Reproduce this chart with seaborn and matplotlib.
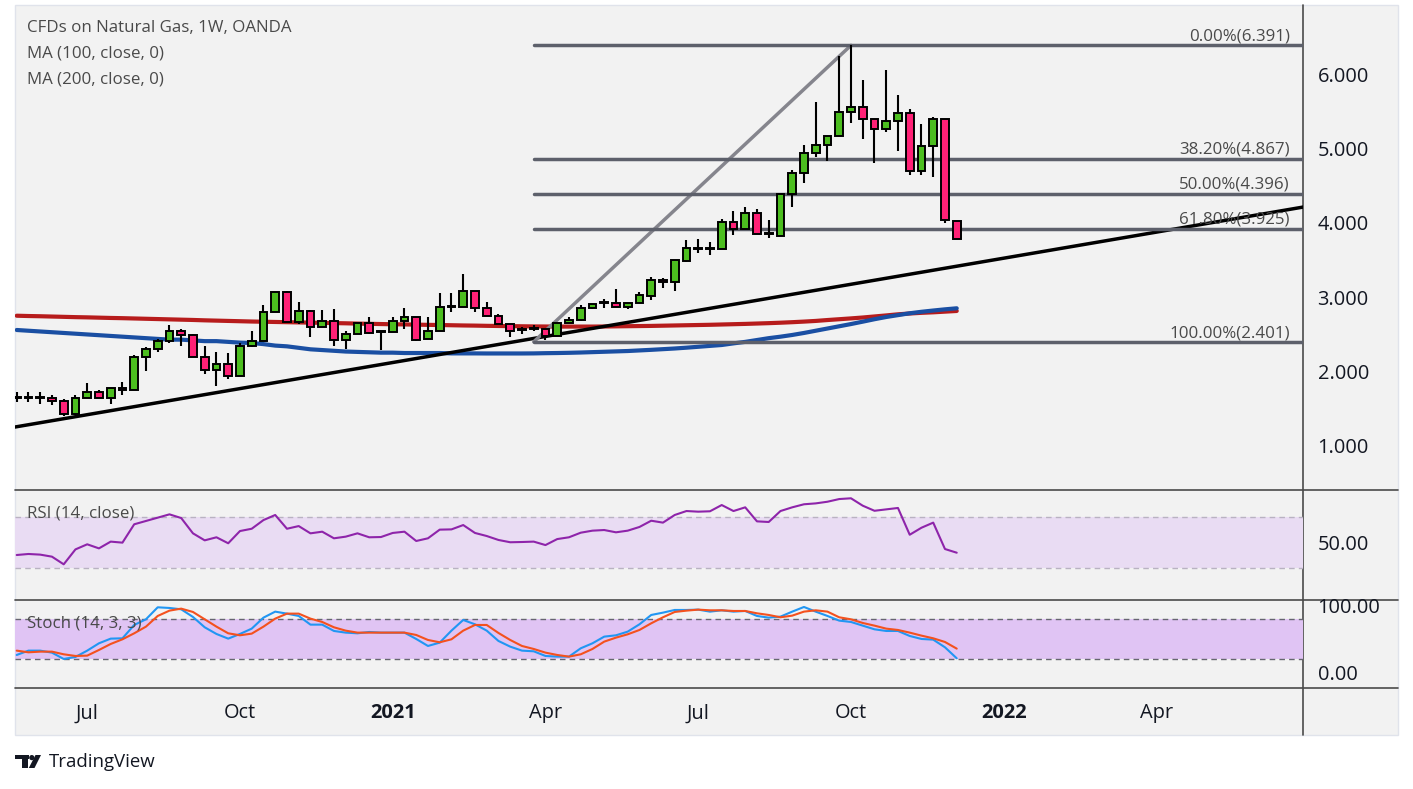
import numpy as np
import pandas as pd
import matplotlib
matplotlib.use("Agg")
import matplotlib.pyplot as plt
import seaborn as sns
from matplotlib.patches import Rectangle, Polygon, Circle

# weekly candles, CFDs on Natural Gas (OANDA)
start_date = "2020-05-18"

opens = [1.65, 1.65, 1.65, 1.645, 1.60, 1.43, 1.64, 1.73, 1.65, 1.78,
         1.75, 2.19, 2.30, 2.41, 2.54, 2.49, 2.19, 2.02, 2.10, 1.94,
         2.34, 2.41, 2.80, 3.07, 2.67, 2.82, 2.60, 2.68, 2.43, 2.50,
         2.65, 2.53, 2.53, 2.68, 2.73, 2.44, 2.55, 2.87, 2.87, 3.09,
         2.85, 2.75, 2.64, 2.56, 2.58, 2.58, 2.48, 2.66, 2.70, 2.85,
         2.92, 2.92, 2.87, 2.93, 3.02, 3.23, 3.20, 3.49, 3.65, 3.65,
         3.65, 4.02, 3.92, 4.13, 3.85, 3.83, 4.39, 4.67, 4.94, 5.05,
         5.17, 5.49, 5.56, 5.40, 5.26, 5.37, 5.48, 4.70, 5.03, 5.40,
         4.03]
highs = [1.72, 1.72, 1.72, 1.69, 1.63, 1.69, 1.85, 1.75, 1.775, 1.86,
         2.22, 2.33, 2.44, 2.63, 2.58, 2.50, 2.34, 2.26, 2.25, 2.38,
         2.55, 2.90, 3.07, 3.09, 2.94, 2.83, 2.83, 2.84, 2.55, 2.66,
         2.74, 2.54, 2.74, 2.85, 2.73, 2.73, 3.06, 3.06, 3.31, 3.09,
         2.94, 2.78, 2.64, 2.60, 2.63, 2.58, 2.66, 2.73, 2.89, 2.91,
         2.98, 3.11, 2.93, 3.07, 3.27, 3.26, 3.50, 3.77, 3.79, 3.74,
         4.05, 4.16, 4.22, 4.19, 4.04, 4.39, 4.71, 5.05, 5.63, 5.17,
         6.25, 6.391, 5.92, 5.40, 6.06, 5.72, 5.53, 5.33, 5.43, 5.40,
         4.03]
lows = [1.59, 1.59, 1.57, 1.55, 1.40, 1.41, 1.64, 1.65, 1.56, 1.69,
        1.75, 2.01, 2.27, 2.38, 2.34, 2.19, 1.97, 1.81, 1.90, 1.94,
        2.33, 2.41, 2.80, 2.67, 2.64, 2.47, 2.60, 2.35, 2.30, 2.50,
        2.51, 2.29, 2.53, 2.57, 2.41, 2.44, 2.55, 2.80, 2.87, 2.80,
        2.75, 2.64, 2.47, 2.51, 2.55, 2.43, 2.48, 2.65, 2.68, 2.84,
        2.85, 2.87, 2.84, 2.93, 2.97, 3.12, 3.09, 3.47, 3.60, 3.57,
        3.65, 3.84, 3.92, 3.85, 3.80, 3.83, 4.22, 4.54, 4.89, 4.83,
        5.17, 5.35, 5.13, 4.81, 5.23, 4.97, 4.64, 4.65, 4.62, 4.00,
        3.78]
closes = [1.65, 1.65, 1.65, 1.60, 1.43, 1.64, 1.73, 1.65, 1.775, 1.75,
          2.19, 2.30, 2.41, 2.54, 2.49, 2.19, 2.02, 2.10, 1.94, 2.34,
          2.41, 2.80, 3.07, 2.67, 2.82, 2.60, 2.68, 2.43, 2.50, 2.65,
          2.52, 2.53, 2.68, 2.73, 2.43, 2.55, 2.87, 2.87, 3.09, 2.86,
          2.75, 2.64, 2.55, 2.56, 2.58, 2.48, 2.66, 2.70, 2.85, 2.91,
          2.92, 2.87, 2.93, 3.03, 3.23, 3.20, 3.50, 3.66, 3.65, 3.65,
          4.02, 3.92, 4.13, 3.85, 3.85, 4.39, 4.67, 4.94, 5.05, 5.17,
          5.49, 5.56, 5.40, 5.26, 5.37, 5.48, 4.70, 5.03, 5.40, 4.04,
          3.78]

ma100 = [2.56, 2.55, 2.54, 2.53, 2.52, 2.51, 2.50, 2.49, 2.48, 2.47,
         2.46, 2.45, 2.44, 2.43, 2.43, 2.42, 2.41, 2.41, 2.40, 2.39,
         2.385, 2.37, 2.35, 2.34, 2.32, 2.30, 2.29, 2.28, 2.27, 2.265,
         2.26, 2.255, 2.255, 2.25, 2.25, 2.25, 2.25, 2.245, 2.245, 2.245,
         2.244, 2.244, 2.244, 2.244, 2.245, 2.248, 2.25, 2.253, 2.257, 2.262,
         2.267, 2.272, 2.277, 2.285, 2.293, 2.302, 2.311, 2.322, 2.334, 2.346,
         2.358, 2.38, 2.40, 2.425, 2.45, 2.47, 2.493, 2.52, 2.55, 2.58,
         2.61, 2.64, 2.672, 2.705, 2.735, 2.76, 2.785, 2.805, 2.822, 2.838,
         2.852]
ma200 = [2.752, 2.748, 2.745, 2.741, 2.737, 2.733, 2.730, 2.726, 2.722, 2.719,
         2.715, 2.711, 2.707, 2.703, 2.699, 2.695, 2.690, 2.686, 2.682, 2.678,
         2.674, 2.671, 2.668, 2.665, 2.662, 2.659, 2.656, 2.653, 2.650, 2.646,
         2.643, 2.640, 2.637, 2.635, 2.632, 2.629, 2.627, 2.624, 2.621, 2.619,
         2.616, 2.614, 2.612, 2.610, 2.608, 2.607, 2.606, 2.606, 2.606, 2.606,
         2.607, 2.609, 2.611, 2.613, 2.615, 2.618, 2.621, 2.624, 2.627, 2.630,
         2.634, 2.638, 2.642, 2.647, 2.652, 2.658, 2.665, 2.673, 2.682, 2.694,
         2.705, 2.716, 2.728, 2.742, 2.756, 2.771, 2.782, 2.791, 2.798, 2.807,
         2.816]

rsi = [40.2, 41.0, 40.5, 38.9, 32.9, 44.6, 48.6, 45.4, 50.7, 49.9,
       64.3, 66.9, 69.5, 72.1, 69.2, 57.2, 51.7, 54.1, 49.4, 59.0,
       60.8, 67.6, 71.6, 60.8, 62.9, 57.2, 58.5, 53.3, 54.6, 57.2,
       54.1, 54.3, 57.5, 58.5, 51.2, 53.3, 60.1, 60.3, 63.7, 57.5,
       55.1, 52.0, 50.2, 50.4, 50.7, 48.0, 52.7, 54.1, 57.7, 59.3,
       59.8, 58.0, 59.3, 62.2, 67.1, 65.6, 71.6, 74.7, 74.2, 74.5,
       79.4, 74.7, 77.6, 66.6, 66.1, 74.7, 77.6, 80.0, 80.7, 82.0,
       84.1, 84.7, 78.9, 74.9, 76.0, 77.1, 56.1, 61.6, 65.6, 44.9,
       42.0]

stoch_k = [26.0, 32.5, 32.5, 29.5, 20.0, 23.0, 32.5, 43.5, 50.5, 51.0,
           71.0, 79.5, 97.5, 96.5, 94.5, 83.0, 67.5, 57.5, 50.5, 57.5,
           65.5, 82.0, 91.0, 88.0, 84.5, 71.5, 71.5, 62.0, 59.5, 58.5,
           60.5, 59.5, 59.5, 59.5, 50.0, 39.5, 44.5, 62.5, 78.5, 72.0,
           62.5, 47.0, 38.5, 32.5, 31.5, 24.5, 23.5, 23.5, 36.0, 43.5,
           53.5, 55.5, 61.0, 72.0, 86.0, 89.5, 93.5, 93.5, 94.0, 91.0,
           93.0, 91.0, 92.0, 84.5, 82.0, 83.5, 91.0, 98.0, 91.0, 84.5,
           77.5, 75.5, 70.0, 64.5, 62.0, 62.0, 54.5, 50.0, 49.0, 37.5,
           21.0]
stoch_d = [32.5, 30.0, 31.0, 31.0, 27.0, 24.5, 25.0, 33.5, 42.5, 49.5,
           58.5, 68.5, 84.5, 92.5, 95.5, 90.5, 79.5, 68.5, 58.5, 55.5,
           58.0, 68.5, 80.5, 88.0, 88.0, 80.5, 75.5, 67.5, 62.5, 59.5,
           59.5, 59.5, 59.5, 59.5, 56.0, 48.5, 45.0, 49.5, 62.5, 71.0,
           71.0, 59.0, 48.5, 39.5, 35.0, 29.5, 26.0, 23.5, 27.0, 35.0,
           46.0, 52.0, 57.0, 63.5, 73.5, 82.5, 90.5, 92.5, 94.0, 93.0,
           93.0, 92.0, 92.0, 88.5, 86.0, 82.5, 85.0, 91.0, 93.0, 91.0,
           82.5, 79.5, 74.0, 70.0, 65.5, 63.5, 59.5, 55.0, 51.0, 45.5,
           35.5]

# fibonacci retracement drawn from the April low to the October high
fib_levels = [6.391, 4.867, 4.396, 3.925, 2.401]
fib_labels = ["0.00%(6.391)", "38.20%(4.867)", "50.00%(4.396)",
              "61.80%(3.925)", "100.00%(2.401)"]
fib_bars = [44, 71]
fib_prices = [2.401, 6.391]

# support trend line
trend_bars = [-0.15, 109.5]
trend_prices = [1.254, 4.215]

tick_months = ["2020-07-01", "2020-10-01", "2021-01-01", "2021-04-01",
               "2021-07-01", "2021-10-01", "2022-01-01", "2022-04-01"]
tick_names = ["Jul", "Oct", "2021", "Apr", "Jul", "Oct", "2022", "Apr"]

sns.set_theme(style="white")
plt.rcParams['font.family'] = ['Open Sans', 'DejaVu Sans']

df = pd.DataFrame({"open": opens, "high": highs, "low": lows, "close": closes,
                   "ma100": ma100, "ma200": ma200, "rsi": rsi,
                   "k": stoch_k, "d": stoch_d})
df["bar"] = np.arange(len(df))

t0 = pd.Timestamp(start_date)
tick_pos = [(pd.Timestamp(m) - t0).days // 7 for m in tick_months]

W, H = 1413, 789
fig = plt.figure(figsize=(W / 100, H / 100), dpi=100)
fig.patch.set_facecolor("white")


def box(x0, y0, x1, y1):
    return [x0 / W, 1 - y1 / H, (x1 - x0) / W, (y1 - y0) / H]


def ftext(x, y, s, **kw):
    # figure text placed in pixel coordinates (origin top left)
    fig.text(x / W, 1 - y / H, s, zorder=10, **kw)


TXT = "#4a4a4a"
AXTXT = "#131722"

# background / frame in pixel coordinates
bg = fig.add_axes([0, 0, 1, 1], zorder=0)
bg.set_xlim(0, W)
bg.set_ylim(H, 0)
bg.axis("off")
bg.add_patch(Rectangle((15, 5), 1383, 730, fc="#f2f2f2", ec="#e0e3eb", lw=1))
for yy in [490, 600, 688]:
    bg.plot([15, 1398], [yy, yy], color="#4a4a4a", lw=1.2)
bg.plot([1303, 1303], [5, 735], color="#4a4a4a", lw=1.2)

# TradingView logo
bg.add_patch(Rectangle((15, 755), 13.5, 4.2, fc=AXTXT, ec="none"))
bg.add_patch(Rectangle((21.5, 755), 6.5, 13, fc=AXTXT, ec="none"))
bg.add_patch(Circle((31.8, 757.6), 2.6, fc=AXTXT, ec="none"))
bg.add_patch(Polygon([(35.5, 755), (41, 755), (34.5, 768), (28.8, 768)],
                     fc=AXTXT, ec="none"))
ftext(49, 762, "TradingView", fontsize=13.4, color=AXTXT, va="center")

# legend and pane titles
ftext(27, 28, "CFDs on Natural Gas, 1W, OANDA", fontsize=12.2, color=TXT, va="center")
ftext(27, 54, "MA (100, close, 0)", fontsize=12.2, color=TXT, va="center")
ftext(27, 79, "MA (200, close, 0)", fontsize=12.2, color=TXT, va="center")
ftext(27, 513, "RSI (14, close)", fontsize=12.2, color=TXT, va="center")
ftext(27, 623, "Stoch (14, 3, 3)", fontsize=12.2, color=TXT, va="center")

xlim = (-0.145, 109.47)
LAB = 14.4

# ---- price pane
ax = fig.add_axes(box(15, 5, 1303, 490), zorder=1)
ax.patch.set_alpha(0)
ax.set_xlim(*xlim)
ax.set_ylim(0.4065, 6.934)

sns.lineplot(data=df, x="bar", y="ma200", ax=ax, color="#b71c1c", lw=3, legend=False, zorder=2)
sns.lineplot(data=df, x="bar", y="ma100", ax=ax, color="#1a4fa3", lw=3, legend=False, zorder=2)
ax.plot(trend_bars, trend_prices, color="black", lw=2.5, zorder=2)

# fibonacci
ax.plot(fib_bars, fib_prices, color="#85858d", lw=2.5, zorder=2)
for lev, lab in zip(fib_levels, fib_labels):
    ax.plot([fib_bars[0], xlim[1]], [lev, lev], color="#5d606b", lw=2.5, zorder=2)
    ax.annotate(lab, (108.35, lev), xytext=(0, 0.5), textcoords="offset points",
                ha="right", va="bottom", fontsize=12.2, color=TXT, zorder=5)

# candles
up = df["close"] >= df["open"]
body_lo = df[["open", "close"]].min(axis=1)
body_h = (df["close"] - df["open"]).abs().clip(lower=0.012)
ax.vlines(df["bar"], df["low"], df["high"], color="black", lw=1.5, zorder=3)
ax.bar(df["bar"], body_h, bottom=body_lo, width=0.66,
       color=np.where(up, "#4cbe1f", "#ff2176"), edgecolor="black", lw=1.4, zorder=4)

ax.yaxis.tick_right()
ax.set_yticks([1, 2, 3, 4, 5, 6])
ax.set_yticklabels([f"{v:.3f}" for v in [1, 2, 3, 4, 5, 6]])
ax.tick_params(axis="y", length=0, pad=10.5, labelsize=LAB, labelcolor=AXTXT)
ax.set_xticks([])
ax.set_xlabel("")
ax.set_ylabel("")
for s in ax.spines.values():
    s.set_visible(False)

# ---- RSI pane
ax_r = fig.add_axes(box(15, 490, 1303, 600), zorder=1)
ax_r.patch.set_alpha(0)
ax_r.set_xlim(*xlim)
ax_r.set_ylim(4.9, 91.2)
ax_r.axhspan(30, 70, color="#e9dcf3", lw=0, zorder=1)
for lev in [30, 70]:
    ax_r.axhline(lev, color="#b9b2c2", lw=1, ls=(0, (4, 3)), zorder=2)
sns.lineplot(data=df, x="bar", y="rsi", ax=ax_r, color="#8e24aa", lw=1.5, legend=False, zorder=3)
ax_r.yaxis.tick_right()
ax_r.set_yticks([50])
ax_r.set_yticklabels(["50.00"])
ax_r.tick_params(axis="y", length=0, pad=10.5, labelsize=LAB, labelcolor=AXTXT)
ax_r.set_xticks([])
ax_r.set_xlabel("")
ax_r.set_ylabel("")
for s in ax_r.spines.values():
    s.set_visible(False)

# ---- Stochastic pane
ax_s = fig.add_axes(box(15, 600, 1303, 688), zorder=1)
ax_s.patch.set_alpha(0)
ax_s.set_xlim(*xlim)
ax_s.set_ylim(-23.55, 108.45)
ax_s.axhspan(20, 80, color="#e0c4f4", lw=0, zorder=1)
for lev in [20, 80]:
    ax_s.axhline(lev, color="#666670", lw=1, ls=(0, (4, 3)), zorder=2)
sns.lineplot(data=df, x="bar", y="k", ax=ax_s, color="#2196f3", lw=1.5, legend=False, zorder=3)
sns.lineplot(data=df, x="bar", y="d", ax=ax_s, color="#f4511e", lw=1.5, legend=False, zorder=3)
ax_s.yaxis.tick_right()
ax_s.set_yticks([0, 100])
ax_s.set_yticklabels(["0.00", "100.00"])
ax_s.tick_params(axis="y", length=0, pad=10.5, labelsize=LAB, labelcolor=AXTXT)
ax_s.set_xticks(tick_pos)
ax_s.set_xticklabels(tick_names)
ax_s.tick_params(axis="x", length=0, pad=11, labelsize=LAB, labelcolor=AXTXT)
for lab in ax_s.get_xticklabels():
    if lab.get_text() in ("2021", "2022"):
        lab.set_fontweight("bold")
ax_s.set_xlabel("")
ax_s.set_ylabel("")
for s in ax_s.spines.values():
    s.set_visible(False)

fig.savefig("out.png", dpi=100, facecolor="white")
